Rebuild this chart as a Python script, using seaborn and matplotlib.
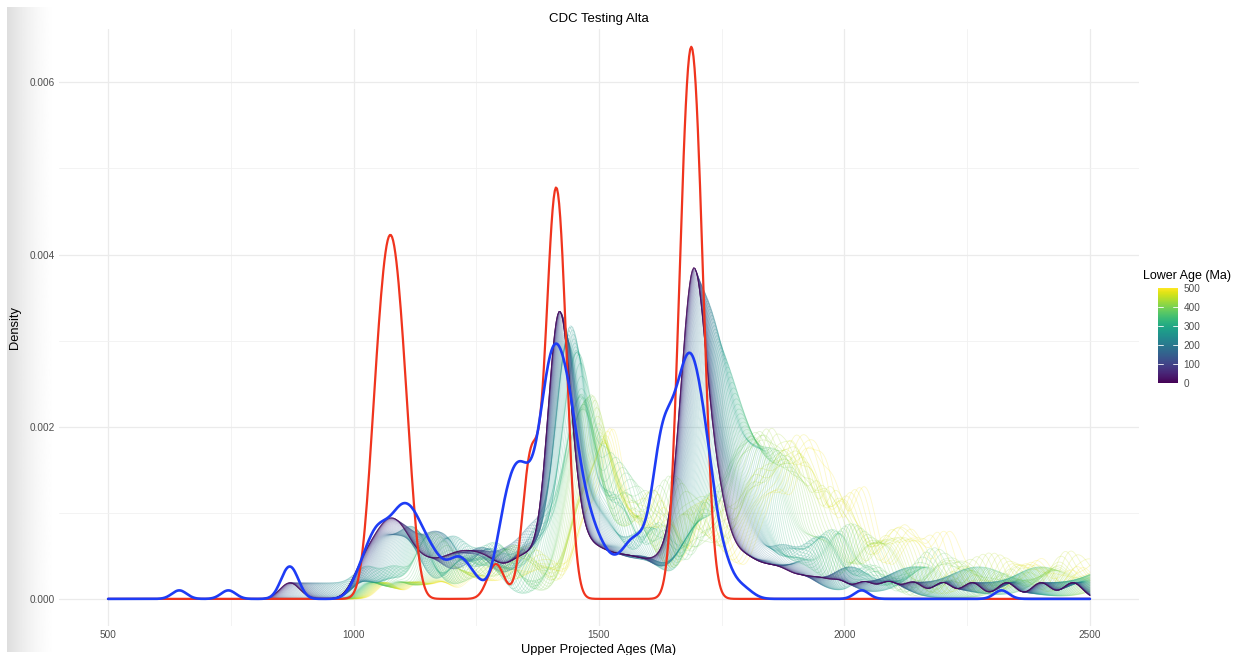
import numpy as np
import pandas as pd
import matplotlib
matplotlib.use("Agg")
import matplotlib.pyplot as plt
import matplotlib.colors as mcolors
import seaborn as sns

# ---------------- text ----------------
title = "CDC Testing Alta"
x_label = "Upper Projected Ages (Ma)"
y_label = "Density"
legend_title = "Lower Age (Ma)"

# ---------------- data ----------------
# lower-intercept ages used for the projections (Ma)
lower_ages = list(range(0, 501, 5))

# grain populations: projected upper age at a lower intercept of 0 Ma,
# and the increase of that projected age at a lower intercept of 500 Ma
pop_870_age = [870]
pop_870_shift = [600]

pop_1080_age = [1010, 1028, 1042, 1054, 1064, 1073, 1082, 1091, 1101, 1113, 1128, 1148]
pop_1080_shift = [60, 500, 300, 80, 650, 200, 900, 150, 1100, 70, 400, 250]

pop_1230_age = [1168, 1188, 1206, 1222, 1238, 1255, 1272, 1292]
pop_1230_shift = [150, 800, 220, 450, 1000, 120, 650, 300]

pop_1340_age = [1318, 1338, 1355, 1372]
pop_1340_shift = [550, 200, 130, 380]

pop_1420_age = [1394, 1400, 1404, 1407, 1409, 1411, 1413, 1415, 1416, 1417,
                1419, 1420, 1421, 1423, 1425, 1427, 1430, 1433, 1436, 1440,
                1446, 1454]
pop_1420_shift = [150, 70, 200, 110, 420, 125, 60, 175, 135, 95,
                  240, 100, 115, 620, 50, 160, 85, 220, 130, 80,
                  310, 190]

pop_1500_age = [1468, 1482, 1497, 1512, 1530, 1548, 1565]
pop_1500_shift = [250, 140, 350, 120, 200, 180, 350]

pop_1600_age = [1585, 1605, 1625]
pop_1600_shift = [120, 260, 500]

pop_1690_age = [1645, 1656, 1663, 1668, 1672, 1676, 1679, 1682, 1684, 1686,
                1687, 1688, 1690, 1691, 1692, 1694, 1695, 1696, 1698, 1700,
                1702, 1705, 1708, 1711, 1714, 1718, 1722, 1727, 1732, 1738,
                1745, 1752, 1760]
pop_1690_shift = [286, 80, 560, 203, 110, 318, 183, 480, 274, 216,
                  240, 60, 342, 225, 285, 173, 243, 650, 239, 359,
                  130, 211, 272, 780, 178, 318, 95, 240, 900, 294,
                  300, 265, 200]

pop_1800_age = [1778, 1795, 1812, 1835, 1858, 1882]
pop_1800_shift = [300, 150, 400, 220, 350, 260]

pop_tail_age = [1915, 1950, 1990, 2040, 2090, 2140, 2200, 2260, 2330, 2400, 2465]
pop_tail_shift = [200, 450, 160, 350, 180, 400, 220, 300, 150, 200, 120]

shift_exponent = 2.5

# reference sample (red)
red_ages = [1040, 1058, 1075, 1092, 1110, 1290, 1361, 1403, 1423, 1670, 1688, 1706]
red_counts = [5, 8, 10, 8, 5, 2, 8, 14, 14, 12, 18, 12]

# unprojected sample (blue)
blue_ages = [645, 745, 862, 878,
             990, 1005, 1020, 1035, 1050, 1065, 1080, 1095, 1110, 1125, 1140, 1155,
             1170, 1185, 1200, 1215, 1230, 1245, 1260, 1275, 1290, 1305, 1320, 1335,
             1350, 1365, 1380, 1395, 1410, 1425, 1440, 1455, 1470, 1485, 1500, 1515,
             1530, 1545, 1560, 1575, 1590, 1605, 1620, 1635, 1650, 1665, 1680, 1695,
             1710, 1725, 1740, 1755, 1770, 1785, 1800, 1815,
             2035, 2320]
blue_counts = [5, 5, 11, 11,
               1, 6, 10, 16, 19, 18, 19, 24, 23, 22, 16, 14,
               10, 8, 9, 12, 9, 6, 4, 1, 11, 24, 31, 35,
               32, 27, 41, 59, 65, 59, 53, 36, 26, 19, 15, 11,
               9, 10, 15, 15, 15, 17, 43, 46, 44, 52, 63, 60,
               47, 37, 16, 13, 5, 4, 3, 1,
               5, 5]

x_ticks = [500, 1000, 1500, 2000, 2500]
y_ticks = [0.000, 0.002, 0.004, 0.006]
cbar_ticks = [0, 100, 200, 300, 400, 500]

FAMILY_BW = 20
RED_BW = 17
BLUE_BW = 15


def fixed_bw(h):
    def _f(kde):
        sd = np.sqrt(np.cov(kde.dataset[0], aweights=kde.weights))
        return h / sd
    return _f


# build long table of projected ages
base = np.asarray(pop_870_age + pop_1080_age + pop_1230_age + pop_1340_age
                  + pop_1420_age + pop_1500_age + pop_1600_age + pop_1690_age
                  + pop_1800_age + pop_tail_age, dtype=float)
shift = np.asarray(pop_870_shift + pop_1080_shift + pop_1230_shift + pop_1340_shift
                   + pop_1420_shift + pop_1500_shift + pop_1600_shift + pop_1690_shift
                   + pop_1800_shift + pop_tail_shift, dtype=float)
frames = []
for L in lower_ages:
    frames.append(pd.DataFrame({
        "upper": base + shift * (L / 500.0) ** shift_exponent,
        "lower": L,
    }))
family = pd.concat(frames, ignore_index=True)

# ---------------- style ----------------
sns.set_theme(style="whitegrid")
plt.rcParams["font.family"] = ["Liberation Sans", "DejaVu Sans"]

fig = plt.figure(figsize=(12.56, 6.55), dpi=100)

# soft shadow at the left edge
sh = fig.add_axes([7 / 1256, 3 / 655, 50 / 1256, 645 / 655], zorder=0)
grad = 1 - 0.13 * (1 - np.linspace(0, 1, 60)) ** 1.6
sh.imshow(grad[None, :], cmap="gray", vmin=0, vmax=1, aspect="auto")
sh.axis("off")

ax = fig.add_axes([59 / 1256, 29 / 655, 1080 / 1256, 597 / 655], zorder=1)
ax.patch.set_alpha(0)

sns.kdeplot(data=family, x="upper", hue="lower", palette="viridis",
            hue_norm=(0, 500), common_norm=False, bw_method=fixed_bw(FAMILY_BW),
            clip=(500, 2500), cut=60, gridsize=700, linewidth=0.6, alpha=0.24,
            legend=False, ax=ax)
sns.kdeplot(x=red_ages, weights=red_counts, bw_method=fixed_bw(RED_BW),
            clip=(500, 2500), cut=80, gridsize=900, color="#F0341E",
            linewidth=1.6, ax=ax)
sns.kdeplot(x=blue_ages, weights=blue_counts, bw_method=fixed_bw(BLUE_BW),
            clip=(500, 2500), cut=100, gridsize=900, color="#1E3CF5",
            linewidth=1.9, ax=ax)

ax.set_xlim(400, 2600)
ax.set_ylim(-0.000315, 0.00662)
ax.set_xticks(x_ticks)
ax.set_xticklabels([str(v) for v in x_ticks])
ax.set_yticks(y_ticks)
ax.set_yticklabels([f"{v:.3f}" for v in y_ticks])
ax.set_xticks([750, 1250, 1750, 2250], minor=True)
ax.set_yticks([0.001, 0.003, 0.005], minor=True)
ax.grid(True, which="major", color="#EBEBEB", linewidth=0.9)
ax.grid(True, which="minor", color="#F1F1F1", linewidth=0.6)
for s in ax.spines.values():
    s.set_visible(False)
ax.tick_params(axis="both", which="both", length=0, labelsize=7.2,
               labelcolor="#4D4D4D", pad=3)
ax.set_xlabel(x_label, fontsize=9.3, color="black", labelpad=3)
ax.set_ylabel(y_label, fontsize=9.3, color="black", labelpad=6)
ax.set_title(title, fontsize=9.5, color="black", pad=5)

# colour bar legend
cax = fig.add_axes([1158 / 1256, (655 - 383) / 655, 20 / 1256, 95 / 655])
norm = mcolors.Normalize(vmin=0, vmax=500)
cb = matplotlib.colorbar.ColorbarBase(cax, cmap=plt.get_cmap("viridis"), norm=norm)
cb.set_ticks(cbar_ticks)
cb.outline.set_visible(False)
cax.tick_params(length=0, labelsize=7.2, labelcolor="#4D4D4D", pad=4)
for t in cbar_ticks[1:-1]:
    cax.plot([0, 0.25], [t, t], color="white", lw=0.6)
    cax.plot([0.75, 1], [t, t], color="white", lw=0.6)
cax.set_xlim(0, 1)
fig.text(1143 / 1256, (655 - 276) / 655, legend_title, fontsize=9, ha="left",
         va="center", color="black")

fig.savefig("out.png", dpi=100, facecolor="white")
